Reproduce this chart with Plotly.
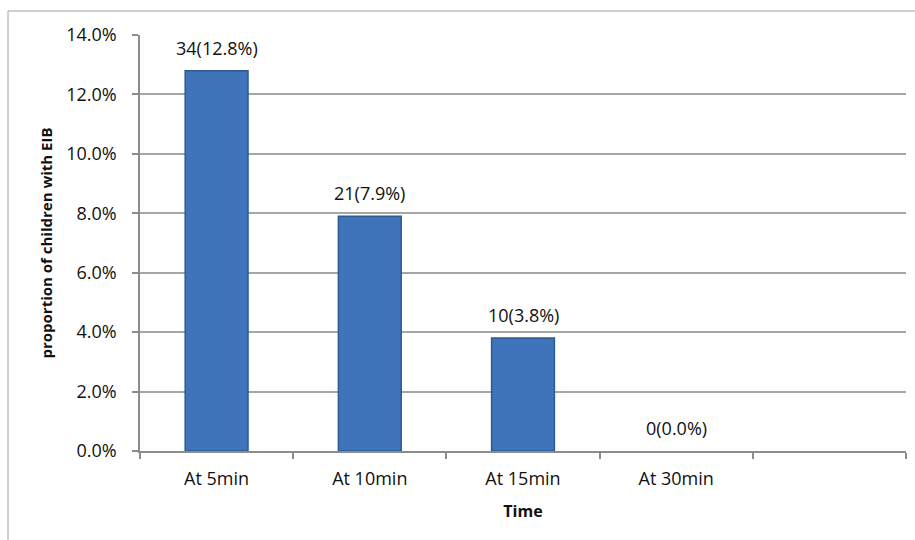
import plotly.graph_objects as go

# Early-onset EIB by time after exercise
categories = ["At 5min", "At 10min", "At 15min", "At 30min"]
counts = [34, 21, 10, 0]
percents = [12.8, 7.9, 3.8, 0.0]
y_ticks = [0.0, 0.02, 0.04, 0.06, 0.08, 0.10, 0.12, 0.14]

FONT = "Open Sans"
x_pos = list(range(len(categories)))
y_vals = [p / 100 for p in percents]
labels = [f"{c}({p:.1f}%)" for c, p in zip(counts, percents)]
# no outline on empty bars so they stay invisible
outline_w = [1.5 if v > 0 else 0 for v in y_vals]

fig = go.Figure()
fig.add_trace(go.Bar(
    x=x_pos,
    y=y_vals,
    width=0.41,
    marker=dict(color="#3F74BA", line=dict(color="#2D5A94", width=outline_w)),
    hoverinfo="skip",
))

for xp, yv, lab in zip(x_pos, y_vals, labels):
    fig.add_annotation(
        x=xp, y=yv, text=lab, showarrow=False,
        yanchor="bottom", yshift=9,
        font=dict(family=FONT, size=18, color="#111111"),
    )

# outer chart frame (top and left edges)
frame = dict(color="#A0A0A0", width=1)
fig.add_shape(type="line", xref="paper", yref="paper",
              x0=-0.1723, x1=1.02, y0=1.0577, y1=1.0577, line=frame)
fig.add_shape(type="line", xref="paper", yref="paper",
              x0=-0.1723, x1=-0.1723, y0=1.0577, y1=-0.3, line=frame)

fig.update_layout(
    width=915, height=540,
    margin=dict(l=140, r=9, t=35, b=89),
    paper_bgcolor="white", plot_bgcolor="white",
    showlegend=False,
    font=dict(family=FONT, size=18, color="#111111"),
    xaxis=dict(
        range=[-0.5, 4.5],
        tickmode="array", tickvals=x_pos, ticktext=categories,
        ticks="", showgrid=False,
        showline=True, linecolor="#8C8C8C", linewidth=1.5,
        zeroline=False,
        minor=dict(tickvals=[-0.5, 0.5, 1.5, 2.5, 3.5, 4.5],
                   ticks="outside", ticklen=6, tickcolor="#8C8C8C",
                   tickwidth=1.5, showgrid=False),
        tickfont=dict(family=FONT, size=18),
        ticklabelstandoff=11,
        title=dict(text="<b>Time</b>", font=dict(family=FONT, size=16), standoff=16),
        fixedrange=True,
    ),
    yaxis=dict(
        range=[0, 0.14],
        tickmode="array", tickvals=y_ticks, tickformat=".1%",
        ticks="outside", ticklen=6, tickcolor="#8C8C8C", tickwidth=1.5,
        showgrid=True, gridcolor="#A6A6A6", gridwidth=1.5,
        showline=True, linecolor="#8C8C8C", linewidth=1.5,
        zeroline=False,
        tickfont=dict(family=FONT, size=18),
        ticklabelstandoff=12,
        title=dict(text="<b>proportion of children with EIB</b>",
                   font=dict(family=FONT, size=15), standoff=10),
        fixedrange=True,
    ),
)

fig.write_html("out.html")
